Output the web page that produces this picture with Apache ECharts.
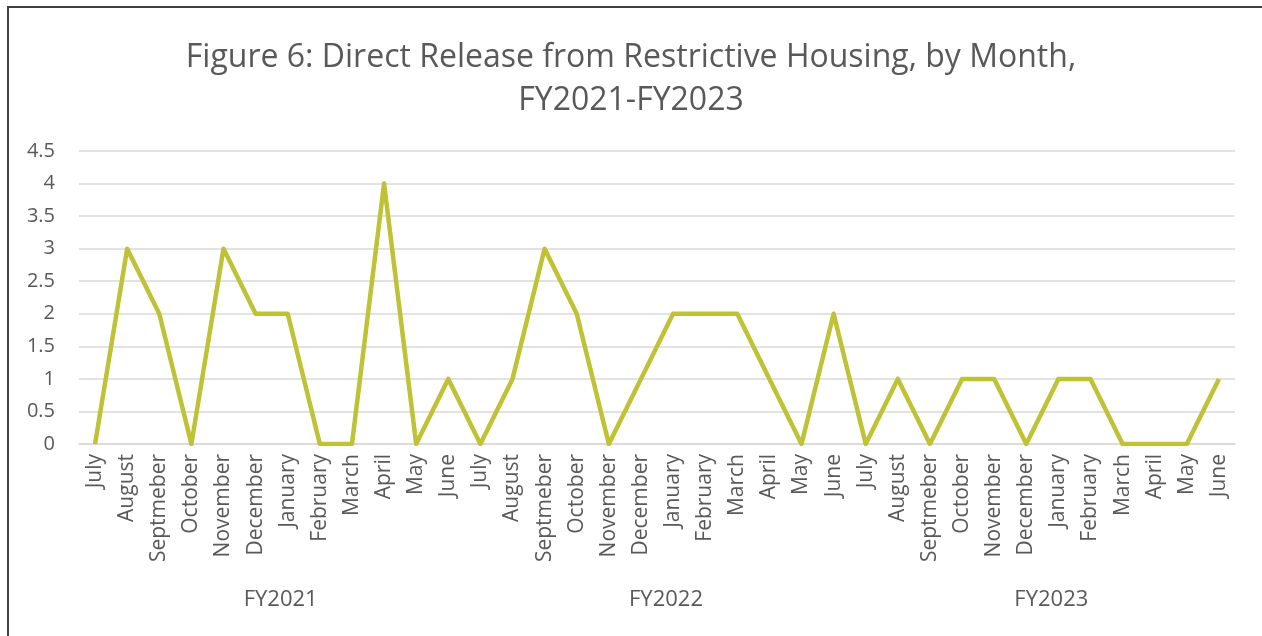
<!DOCTYPE html>
<html>
<head>
<meta charset="utf-8">
<script src="https://cdn.jsdelivr.net/npm/echarts@6/dist/echarts.min.js"></script>
<style>
  html, body { margin: 0; padding: 0; background: #fff; }
  #chart { width: 1262px; height: 636px; }
</style>
</head>
<body>
<div id="chart"></div>
<script>
// months per fiscal year (typos kept as in the source)
const months = [
  "July", "August", "Septmeber", "October", "November", "December",
  "January", "February", "March", "April", "May", "June",
  "July", "August", "Septmeber", "October", "November", "December",
  "January", "February", "March", "April", "May", "June",
  "July", "August", "Septmeber", "October", "November", "December",
  "January", "February", "March", "April", "May", "June"
];
const fiscalYears = ["FY2021", "FY2022", "FY2023"];
const releases = [
  0, 3, 2, 0, 3, 2, 2, 0, 0, 4, 0, 1,
  0, 1, 3, 2, 0, 1, 2, 2, 2, 1, 0, 2,
  0, 1, 0, 1, 1, 0, 1, 1, 0, 0, 0, 1
];

const textColor = "#595959";
const font = "Open Sans";

let myChart = echarts.init(document.getElementById("chart"));
myChart.setOption({
  backgroundColor: "#fff",
  animation: false,
  textStyle: { fontFamily: font },
  title: {
    text: "Figure 6: Direct Release from Restrictive Housing, by Month,\nFY2021-FY2023",
    left: "center",
    top: 31,
    textStyle: {
      color: textColor,
      fontFamily: font,
      fontSize: 32,
      fontWeight: "normal",
      lineHeight: 43,
    },
  },
  graphic: [
    {
      type: "polyline",
      shape: { points: [[8, 636], [8, 7], [1262, 7]] },
      style: { stroke: "#404040", lineWidth: 2, fill: null },
    },
  ],
  grid: {
    left: 79,
    right: 27,
    top: 151,
    bottom: 192,
  },
  xAxis: [
    {
      type: "category",
      data: months,
      position: "bottom",
      axisTick: { show: false },
      axisLine: { show: true, lineStyle: { color: "#d9d9d9", width: 1.5 } },
      axisLabel: {
        interval: 0,
        rotate: 90,
        margin: 10,
        color: textColor,
        fontSize: 21,
        fontFamily: font,
      },
      splitLine: { show: false },
    },
    {
      type: "category",
      data: fiscalYears,
      position: "bottom",
      offset: 137,
      axisTick: { show: false },
      axisLine: { show: false },
      axisLabel: {
        interval: 0,
        color: textColor,
        fontSize: 22,
        fontFamily: font,
        padding: [0, 0, 0, 18],
      },
    },
  ],
  yAxis: {
    type: "value",
    min: 0,
    max: 4.5,
    interval: 0.5,
    axisLine: { show: false },
    axisTick: { show: false },
    axisLabel: {
      color: textColor,
      fontSize: 20,
      fontFamily: font,
      margin: 24,
    },
    splitLine: { lineStyle: { color: "#d9d9d9", width: 1.5 } },
  },
  series: [
    {
      name: "Direct Release",
      type: "line",
      xAxisIndex: 0,
      data: releases,
      symbol: "none",
      lineStyle: { color: "#bec234", width: 4.5, join: "round" },
    },
  ],
});
</script>
</body>
</html>
